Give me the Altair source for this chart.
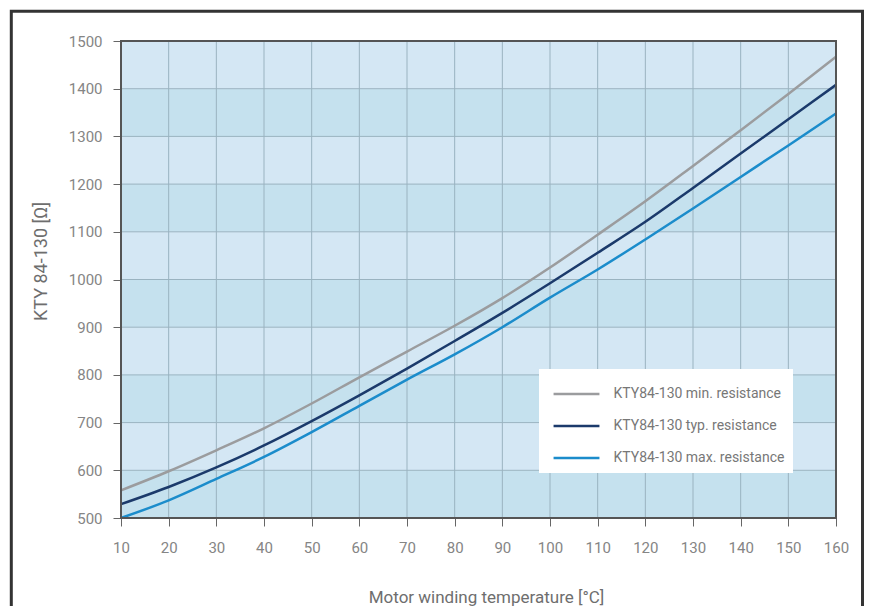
import altair as alt
import pandas as pd

# ---- data ----
temps = [10, 20, 30, 40, 50, 60, 70, 80, 90, 100, 110, 120, 130, 140, 150, 160]
r_min = [558, 598, 642, 688, 740, 795, 849, 903, 961, 1025, 1094, 1164, 1238, 1313, 1389, 1467]
r_typ = [529, 565, 606, 652, 703, 757, 813, 871, 930, 992, 1056, 1121, 1192, 1264, 1336, 1408]
r_max = [500, 537, 582, 628, 680, 735, 790, 843, 900, 962, 1021, 1084, 1149, 1215, 1281, 1348]

series_names = ["KTY84-130 min. resistance", "KTY84-130 typ. resistance", "KTY84-130 max. resistance"]
series_colors = ["#9b9c9e", "#1b3a6b", "#1b8ccb"]

x_ticks = [10, 20, 30, 40, 50, 60, 70, 80, 90, 100, 110, 120, 130, 140, 150, 160]
y_ticks = [500, 600, 700, 800, 900, 1000, 1100, 1200, 1300, 1400, 1500]

band_starts = [500, 600, 700, 800, 900, 1000, 1100, 1200, 1300, 1400]
band_ends = [600, 700, 800, 900, 1000, 1100, 1200, 1300, 1400, 1500]
band_fills = ["#c5e1ee", "#d4e7f4"] * 5

x_grid = [20, 30, 40, 50, 60, 70, 80, 90, 100, 110, 120, 130, 140, 150]
y_grid = [600, 700, 800, 900, 1000, 1100, 1200, 1300, 1400]

# ---- tables ----
rows = []
for name, vals in zip(series_names, [r_min, r_typ, r_max]):
    for t, v in zip(temps, vals):
        rows.append({"temp": t, "res": v, "series": name})
lines_df = pd.DataFrame(rows)
bands_df = pd.DataFrame({"y0": band_starts, "y1": band_ends, "fill": band_fills})
xgrid_df = pd.DataFrame({"gx": x_grid})
ygrid_df = pd.DataFrame({"gy": y_grid})
one_df = pd.DataFrame({"k": [0]})

xscale = alt.Scale(domain=[10, 160], nice=False, zero=False)
yscale = alt.Scale(domain=[500, 1500], nice=False, zero=False)

x_axis = alt.Axis(values=x_ticks, format="d", tickSize=8, tickColor="#666666", tickWidth=1,
                  labelFontSize=15, labelFont="Roboto", labelColor="#858585",
                  labelPadding=14, labelFlush=False, domain=False, grid=False,
                  title="Motor winding temperature [°C]", titleFontSize=17,
                  titleFont="Roboto", titleColor="#6e6e6e", titleFontWeight="normal",
                  titleX=365, titleY=84, titleBaseline="alphabetic", titleAlign="center")
y_axis = alt.Axis(values=y_ticks, format="d", tickSize=8, tickColor="#666666", tickWidth=1,
                  labelFontSize=15, labelFont="Roboto", labelColor="#858585",
                  labelPadding=11, domain=False, grid=False,
                  title="KTY 84-130 [Ω]", titleFontSize=18, titleFont="Roboto",
                  titleColor="#6e6e6e", titleFontWeight="normal", titleAngle=270,
                  titleX=-79.5, titleY=220, titleBaseline="middle", titleAlign="center")

bands = alt.Chart(bands_df).mark_rect().encode(
    x=alt.value(0), x2=alt.value("width"),
    y=alt.Y("y0:Q", scale=yscale, axis=y_axis), y2="y1:Q",
    fill=alt.Fill("fill:N", scale=None, legend=None),
)

vgrid = alt.Chart(xgrid_df).mark_rule(color="#9ab3c0", strokeWidth=1).encode(
    x=alt.X("gx:Q", scale=xscale, axis=x_axis)
)
hgrid = alt.Chart(ygrid_df).mark_rule(color="#9ab3c0", strokeWidth=1).encode(
    y=alt.Y("gy:Q", scale=yscale, axis=y_axis)
)

lines = alt.Chart(lines_df).mark_line(strokeWidth=2.5, interpolate="monotone").encode(
    x=alt.X("temp:Q", scale=xscale, axis=x_axis),
    y=alt.Y("res:Q", scale=yscale, axis=y_axis),
    color=alt.Color("series:N",
                    scale=alt.Scale(domain=series_names, range=series_colors),
                    legend=alt.Legend(title=None, orient="none", legendX=418, legendY=328,
                                      fillColor="white", padding=8,
                                      symbolType="M-1.48,0L1.48,0", symbolSize=961,
                                      symbolStrokeWidth=2.5, symbolOffset=12.5,
                                      labelOffset=20, labelFontSize=14, labelFont="Roboto",
                                      labelLimit=400, labelColor="#777777", rowPadding=8)),
)

frame = alt.Chart(one_df).mark_rect(fillOpacity=0, stroke="#555555", strokeWidth=2).encode(
    x=alt.value(0), x2=alt.value("width"), y=alt.value(0), y2=alt.value("height")
)

outer = alt.Chart(one_df).mark_rect(fillOpacity=0, stroke="#333333", strokeWidth=3).encode(
    x=alt.value(-109.7), x2=alt.value(741.5), y=alt.value(-29.7), y2=alt.value(660)
)

chart = alt.layer(bands, vgrid, hgrid, lines, frame, outer).properties(
    width=715, height=477,
    autosize=alt.AutoSizeParams(type="none"),
    padding={"left": 113, "top": 33, "right": 28, "bottom": 88},
    background="white",
).configure_view(stroke=None)

chart.save("out.html", embed_options={"renderer": "svg", "actions": False})
